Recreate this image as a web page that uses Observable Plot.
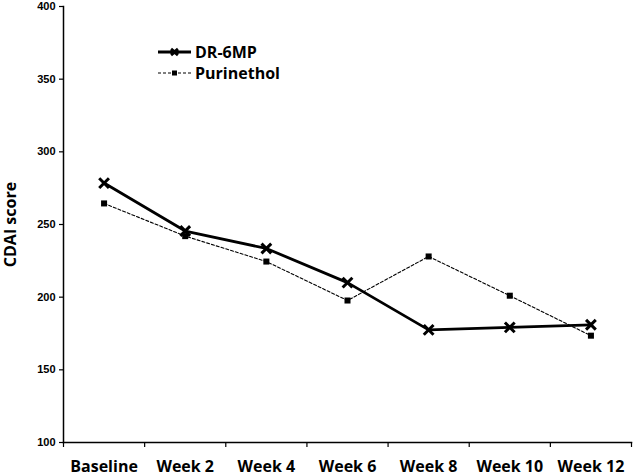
<!DOCTYPE html>
<html>
<head>
<meta charset="utf-8">
<script src="https://cdn.jsdelivr.net/npm/d3@7"></script>
<script src="https://cdn.jsdelivr.net/npm/@observablehq/plot@0.6"></script>
<style>
  html, body { margin: 0; padding: 0; background: #fff; }
  #wrap { position: relative; width: 633px; height: 476px; }
  #legend { position: absolute; left: 158px; top: 41px; font-family: "Open Sans", sans-serif; font-weight: bold; font-size: 16px; color: #000; }
  #legend .row { display: flex; align-items: center; height: 21px; }
  #legend svg { margin-right: 3px; }
</style>
</head>
<body>
<div id="wrap"></div>
<script>
const categories = ["Baseline", "Week 2", "Week 4", "Week 6", "Week 8", "Week 10", "Week 12"];
const dr6mp = [278.5, 245.5, 233.5, 210, 177.5, 179.2, 181];
const purinethol = [264.5, 242, 224.5, 197.7, 228, 201, 173.5];
const yTicks = [100, 150, 200, 250, 300, 350, 400];
const seriesNames = ["DR-6MP", "Purinethol"];

const rows = [];
categories.forEach((c, i) => {
  rows.push({series: seriesNames[0], x: i + 0.5, y: dr6mp[i]});
  rows.push({series: seriesNames[1], x: i + 0.5, y: purinethol[i]});
});
const dr = rows.filter(d => d.series === seriesNames[0]);
const pu = rows.filter(d => d.series === seriesNames[1]);

const chart = Plot.plot({
  width: 633,
  height: 476,
  marginTop: 6,
  marginBottom: 34,
  marginLeft: 63,
  marginRight: 2,
  style: {background: "#fff", color: "#000"},
  x: {domain: [0, categories.length]},
  y: {domain: [100, 400]},
  marks: [
    Plot.axisY({ticks: yTicks, tickSize: 4, tickPadding: 4, label: null, fontSize: 11, fontWeight: "bold", fontFamily: "Liberation Sans, Arial, sans-serif", strokeWidth: 1.2}),
    Plot.axisX({ticks: d3.range(categories.length + 1), tickSize: 5, tickFormat: () => "", label: null, strokeWidth: 1.2}),
    Plot.axisX({ticks: d3.range(categories.length).map(i => i + 0.5), tickSize: 0, tickPadding: 18, tickFormat: v => categories[Math.floor(v)], label: null, fontSize: 16, fontWeight: "bold", fontFamily: "Open Sans, sans-serif"}),
    Plot.frame({anchor: "left", strokeWidth: 1.5}),
    Plot.frame({anchor: "bottom", strokeWidth: 1.5}),
    Plot.text(["CDAI score"], {frameAnchor: "left", textAnchor: "middle", rotate: -90, dx: -53, fontSize: 16, fontWeight: "bold", fontFamily: "Open Sans, sans-serif"}),
    Plot.line(pu, {x: "x", y: "y", stroke: "#000", strokeWidth: 1.1, strokeDasharray: "3,2"}),
    Plot.dot(pu, {x: "x", y: "y", symbol: "square", r: 3.4, fill: "#000"}),
    Plot.line(dr, {x: "x", y: "y", stroke: "#000", strokeWidth: 2.8}),
    Plot.dot(dr, {x: "x", y: "y", symbol: "times", r: 4.5, stroke: "#000", strokeWidth: 3})
  ]
});
const wrap = document.getElementById("wrap");
wrap.appendChild(chart);

const legend = document.createElement("div");
legend.id = "legend";
legend.innerHTML = `
  <div class="row"><svg width="34" height="12"><line x1="0" y1="6" x2="33" y2="6" stroke="#000" stroke-width="2.8"/><path d="M13,3L20,9M20,3L13,9" stroke="#000" stroke-width="3"/></svg><span>${seriesNames[0]}</span></div>
  <div class="row"><svg width="34" height="12"><line x1="0" y1="6" x2="33" y2="6" stroke="#000" stroke-width="1.1" stroke-dasharray="3,2"/><rect x="14" y="3.5" width="5" height="5" fill="#000"/></svg><span>${seriesNames[1]}</span></div>`;
wrap.appendChild(legend);
</script>
</body>
</html>
